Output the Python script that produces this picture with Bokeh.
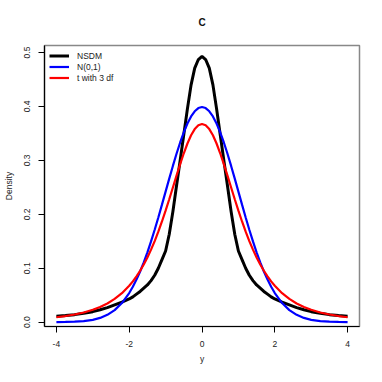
from bokeh.plotting import figure
from bokeh.models import Range1d, FixedTicker, Title
from bokeh.embed import file_html
from bokeh.resources import INLINE

# ---- data ----
x_grid = [-4.0, -3.75, -3.5, -3.25, -3.0, -2.8, -2.6, -2.4, -2.2,
          -2.0, -1.9, -1.8, -1.7, -1.6, -1.5, -1.4, -1.3, -1.2, -1.1,
          -1.0, -0.9, -0.8, -0.7, -0.6, -0.5, -0.4, -0.3, -0.2, -0.1,
          0.0, 0.1, 0.2, 0.3, 0.4, 0.5, 0.6, 0.7, 0.8, 0.9, 1.0,
          1.1, 1.2, 1.3, 1.4, 1.5, 1.6, 1.7, 1.8, 1.9, 2.0,
          2.2, 2.4, 2.6, 2.8, 3.0, 3.25, 3.5, 3.75, 4.0]
normal = [0.0001, 0.0004, 0.0009, 0.0020, 0.0044, 0.0079, 0.0136, 0.0224, 0.0355,
          0.0540, 0.0656, 0.0790, 0.0940, 0.1109, 0.1295, 0.1497, 0.1714, 0.1942, 0.2179,
          0.2420, 0.2661, 0.2897, 0.3123, 0.3332, 0.3521, 0.3683, 0.3814, 0.3910, 0.3970,
          0.3989, 0.3970, 0.3910, 0.3814, 0.3683, 0.3521, 0.3332, 0.3123, 0.2897, 0.2661, 0.2420,
          0.2179, 0.1942, 0.1714, 0.1497, 0.1295, 0.1109, 0.0940, 0.0790, 0.0656, 0.0540,
          0.0355, 0.0224, 0.0136, 0.0079, 0.0044, 0.0020, 0.0009, 0.0004, 0.0001]
t3 = [0.0092, 0.0114, 0.0142, 0.0180, 0.0230, 0.0282, 0.0347, 0.0431, 0.0538,
      0.0675, 0.0757, 0.0850, 0.0954, 0.1070, 0.1200, 0.1345, 0.1504, 0.1678, 0.1867,
      0.2067, 0.2279, 0.2497, 0.2716, 0.2930, 0.3132, 0.3313, 0.3465, 0.3580, 0.3652,
      0.3676, 0.3652, 0.3580, 0.3465, 0.3313, 0.3132, 0.2930, 0.2716, 0.2497, 0.2279, 0.2067,
      0.1867, 0.1678, 0.1504, 0.1345, 0.1200, 0.1070, 0.0954, 0.0850, 0.0757, 0.0675,
      0.0538, 0.0431, 0.0347, 0.0282, 0.0230, 0.0180, 0.0142, 0.0114, 0.0092]
nsdm = [0.0108, 0.0122, 0.0140, 0.0165, 0.0195, 0.0230, 0.0270, 0.0320, 0.0370,
        0.0430, 0.0470, 0.0520, 0.0570, 0.0630, 0.0690, 0.0770, 0.0870, 0.1000, 0.1160,
        0.1320, 0.1630, 0.2050, 0.2530, 0.3000, 0.3480, 0.3960, 0.4400, 0.4710, 0.4870,
        0.4930, 0.4870, 0.4710, 0.4400, 0.3960, 0.3480, 0.3000, 0.2530, 0.2050, 0.1630, 0.1320,
        0.1160, 0.1000, 0.0870, 0.0770, 0.0690, 0.0630, 0.0570, 0.0520, 0.0470, 0.0430,
        0.0370, 0.0320, 0.0270, 0.0230, 0.0195, 0.0165, 0.0140, 0.0122, 0.0108]

x_ticks = [-4, -2, 0, 2, 4]
y_ticks = [0.0, 0.1, 0.2, 0.3, 0.4, 0.5]
y_tick_labels = ["0.0", "0.1", "0.2", "0.3", "0.4", "0.5"]
title_text = "C"

FONT = "Liberation Sans"

p = figure(width=366, height=366, output_backend="svg", toolbar_location=None,
           x_range=Range1d(-4.327, 4.327), y_range=Range1d(-0.008, 0.513),
           min_border_left=44, min_border_right=7, min_border_top=45, min_border_bottom=40,
           title=title_text)

p.title.align = "center"
p.title.text_font = FONT
p.title.text_font_size = "10px"
p.title.text_font_style = "bold"
p.title.text_color = "#111111"

# small empty spacer title between the frame and the real title
spacer = Title(text=" ", text_font_size="1px", align="center")
p.add_layout(spacer, "above")

p.xgrid.visible = False
p.ygrid.visible = False
p.outline_line_color = "#888888"
p.outline_line_width = 1.5
p.background_fill_color = "white"
p.border_fill_color = "white"

p.line(x_grid, nsdm, line_color="black", line_width=3, legend_label="NSDM")
p.line(x_grid, normal, line_color="#0000FF", line_width=2.2, legend_label="N(0,1)")
p.line(x_grid, t3, line_color="#FF0000", line_width=2.2, legend_label="t with 3 df")

for ax in (p.xaxis[0], p.yaxis[0]):
    ax.axis_line_color = "black"
    ax.axis_line_width = 1.2
    ax.major_tick_line_color = "black"
    ax.minor_tick_line_color = None
    ax.major_tick_out = 6
    ax.major_tick_in = 0
    ax.major_label_text_font = FONT
    ax.major_label_text_font_size = "8.5px"
    ax.major_label_text_color = "#222222"
    ax.axis_label_text_font = FONT
    ax.axis_label_text_font_size = "8.5px"
    ax.axis_label_text_font_style = "normal"
    ax.axis_label_text_color = "#222222"

p.xaxis.ticker = FixedTicker(ticks=x_ticks)
p.xaxis.major_label_overrides = {t: str(t) for t in x_ticks}
p.xaxis.axis_label = "y"
p.xaxis.major_label_standoff = 8
p.xaxis.axis_label_standoff = 4

p.yaxis.ticker = FixedTicker(ticks=y_ticks)
p.yaxis.major_label_overrides = {t: l for t, l in zip(y_ticks, y_tick_labels)}
p.yaxis.major_label_orientation = "vertical"
p.yaxis.axis_label = "Density"
p.yaxis.major_label_standoff = 8
p.yaxis.axis_label_standoff = 8

lg = p.legend[0]
lg.location = "top_left"
lg.margin = 0
lg.padding = 5
lg.spacing = 0
lg.glyph_width = 20
lg.glyph_height = 11
lg.label_height = 11
lg.label_standoff = 8
lg.label_text_font = FONT
lg.label_text_font_size = "8.5px"
lg.label_text_color = "#222222"
lg.border_line_alpha = 0
lg.background_fill_alpha = 0

open("out.html", "w").write(file_html(p, INLINE))
